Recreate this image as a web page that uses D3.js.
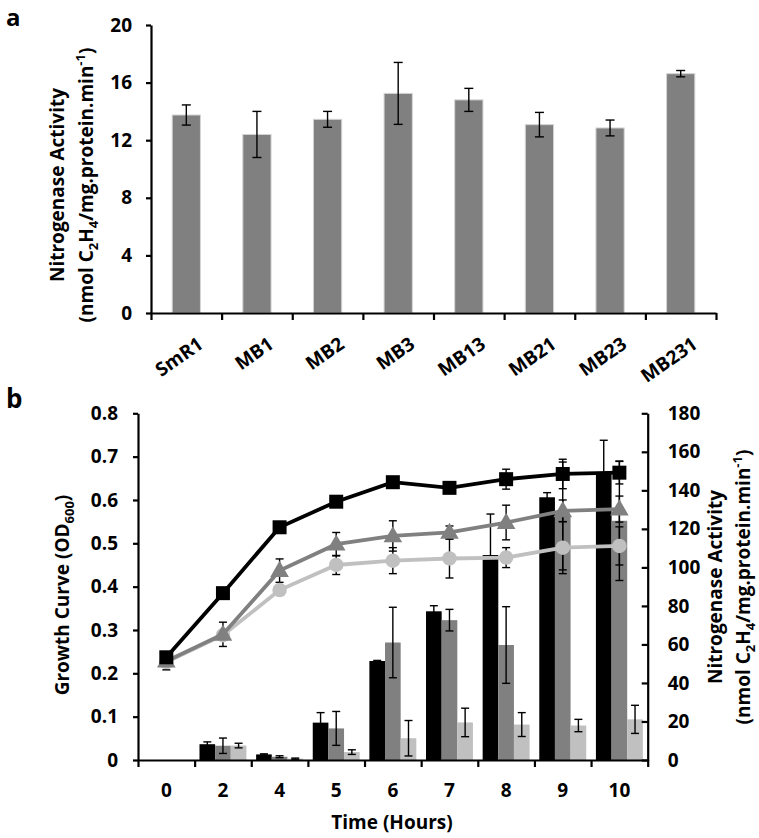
<!DOCTYPE html>
<html><head><meta charset="utf-8">
<script src="https://cdn.jsdelivr.net/npm/d3@7"></script>
<style>
body{margin:0;background:#fff}
text{font-family:"Open Sans",sans-serif;font-weight:bold;fill:#000}
</style></head>
<body>
<svg id="c" width="759" height="838"></svg>
<script>
// ---------- Panel a data ----------
const strainsA = ["SmR1","MB1","MB2","MB3","MB13","MB21","MB23","MB231"];
const activityA = [13.75,12.4,13.45,15.25,14.8,13.08,12.85,16.62];
const activityAErr = [0.7,1.6,0.55,2.15,0.8,0.85,0.55,0.22];
const yTicksA = [0,4,8,12,16,20];

// ---------- Panel b data ----------
const hoursB = ["0","2","4","5","6","7","8","9","10"];
const odBlack = [0.237,0.385,0.537,0.596,0.641,0.628,0.648,0.660,0.663];
const odBlackErr = [0.008,0.008,0.006,0.006,0.006,0.012,0.023,0.034,0.026];
const odGray = [0.228,0.290,0.437,0.498,0.517,0.525,0.548,0.575,0.579];
const odGrayErr = [0.01,0.028,0.027,0.027,0.035,0.015,0.04,0.025,0.03];
const odLight = [0.226,0.288,0.392,0.450,0.460,0.465,0.467,0.490,0.494];
const odLightErr = [0.018,0.006,0.006,0.022,0.03,0.045,0.023,0.06,0.044];
const nfBlack = [0,8.2,2.9,19.4,51.4,77.2,106.4,136.4,148.5];
const nfBlackErr = [0,1.2,0.3,5.2,0.3,2.9,21.3,2.4,17.5];
const nfGray = [0,7.4,1.7,16.4,61,72.6,59.7,126.7,124.2];
const nfGrayErr = [0,4,0.5,8.8,18.3,5.6,19.9,28,31];
const nfLight = [0,7.5,0.7,4.1,11.3,19.5,18.4,17.9,21.1];
const nfLightErr = [0,1.2,0.3,1.2,9.2,7.4,6.2,3.2,7.3];
const yTicksBL = [0,0.1,0.2,0.3,0.4,0.5,0.6,0.7,0.8];
const yTicksBR = [0,20,40,60,80,100,120,140,160,180];

const svg = d3.select("#c");
const COLORS = {b:"#000000", g:"#808080", l:"#c0c0c0"};
const TICK_FS = 19, TITLE_FS = 19, SUB_FS = 13;

function styleAxis(g){
  g.selectAll(".domain").attr("stroke","#000").attr("stroke-width",2.2);
  g.selectAll(".tick line").attr("stroke","#000").attr("stroke-width",2.2);
  g.selectAll(".tick text").attr("font-family","Open Sans").attr("font-weight","bold").attr("font-size",TICK_FS).attr("fill","#000");
}
function errBar(g, x, y0, y1, cap){
  g.append("line").attr("x1",x).attr("x2",x).attr("y1",y0).attr("y2",y1).attr("stroke","#000").attr("stroke-width",1.4);
  [y0,y1].forEach(y=>g.append("line").attr("x1",x-cap).attr("x2",x+cap).attr("y1",y).attr("y2",y).attr("stroke","#000").attr("stroke-width",1.4));
}
function unitTitle(g, x, y){
  const t = g.append("text").attr("text-anchor","middle").attr("font-size",TITLE_FS)
    .attr("transform",`translate(${x},${y}) rotate(-90)`);
  t.append("tspan").text("(nmol C");
  t.append("tspan").attr("font-size",SUB_FS).attr("dy",5).text("2");
  t.append("tspan").attr("dy",-5).text("H");
  t.append("tspan").attr("font-size",SUB_FS).attr("dy",5).text("4");
  t.append("tspan").attr("dy",-5).text("/mg.protein.min");
  t.append("tspan").attr("font-size",SUB_FS).attr("dy",-8).text("-1");
  t.append("tspan").attr("dy",8).text(")");
  return t;
}

// ================= Panel a =================
const aL=151, aR=716, aT=25, aB=313;
const xA = d3.scaleBand().domain(strainsA).range([aL,aR]).paddingInner(0.6).paddingOuter(0.3);
const xAt = d3.scaleLinear().domain([0,strainsA.length]).range([aL,aR]);
const yA = d3.scaleLinear().domain([0,20]).range([aB,aT]);
const gA = svg.append("g");

gA.selectAll("rect").data(activityA).join("rect")
  .attr("x",(d,i)=>xA(strainsA[i])).attr("width",xA.bandwidth())
  .attr("y",d=>yA(d)).attr("height",d=>aB-yA(d))
  .attr("fill","#808080").attr("stroke","#d4d4d4").attr("stroke-width",1);
activityA.forEach((d,i)=>{
  const cx = xA(strainsA[i])+xA.bandwidth()/2;
  errBar(gA, cx, yA(d+activityAErr[i]), yA(d-activityAErr[i]), 4.5);
});

gA.append("g").attr("transform",`translate(${aL},0)`)
  .call(d3.axisLeft(yA).tickValues(yTicksA).tickSize(5).tickSizeOuter(0).tickPadding(14))
  .call(styleAxis);
gA.append("g").attr("transform",`translate(0,${aB})`)
  .call(d3.axisBottom(xAt).tickValues(d3.range(0,strainsA.length+1)).tickFormat("").tickSize(7).tickSizeOuter(0))
  .call(styleAxis);
strainsA.forEach(s=>{
  const cx = xA(s)+xA.bandwidth()/2;
  gA.append("text").attr("font-size",TICK_FS).attr("text-anchor","end")
    .attr("transform",`translate(${cx+18},${aB+34}) rotate(-35)`).text(s);
});
gA.append("text").attr("text-anchor","middle").attr("font-size",TITLE_FS)
  .attr("transform",`translate(64,185) rotate(-90)`).text("Nitrogenase Activity");
unitTitle(gA, 93, 185);
svg.append("text").attr("x",6).attr("y",26).attr("font-size",24).text("a");

// ================= Panel b =================
const bL=138, bR=647.7, bT=413.3, bB=760;
const xB = d3.scaleBand().domain(hoursB).range([bL,bR]).padding(0);
const xBt = d3.scaleLinear().domain([0,hoursB.length]).range([bL,bR]);
const xSub = d3.scaleBand().domain(["b","g","l"]).range([0,xB.bandwidth()]).paddingInner(0).paddingOuter(0.31);
const yBL = d3.scaleLinear().domain([0,0.8]).range([bB,bT]);
const yBR = d3.scaleLinear().domain([0,180]).range([bB,bT]);
const gB = svg.append("g");

const barSeries = [
  {k:"b", v:nfBlack, e:nfBlackErr},
  {k:"g", v:nfGray, e:nfGrayErr},
  {k:"l", v:nfLight, e:nfLightErr}
];
barSeries.forEach(s=>{
  gB.append("g").selectAll("rect").data(s.v).join("rect")
    .attr("x",(d,i)=>xB(hoursB[i])+xSub(s.k)).attr("width",xSub.bandwidth())
    .attr("y",d=>yBR(d)).attr("height",d=>bB-yBR(d))
    .attr("fill",COLORS[s.k]);
});
barSeries.forEach(s=>{
  s.v.forEach((d,i)=>{
    if(s.e[i]<=0 || d<=0) return;
    const cx = xB(hoursB[i])+xSub(s.k)+xSub.bandwidth()/2;
    errBar(gB, cx, yBR(d+s.e[i]), yBR(Math.max(0,d-s.e[i])), 4);
  });
});

const lineSeries = [
  {k:"l", v:odLight, e:odLightErr, m:"circle"},
  {k:"g", v:odGray, e:odGrayErr, m:"triangle"},
  {k:"b", v:odBlack, e:odBlackErr, m:"square"}
];
const cxB = i => xB(hoursB[i])+xB.bandwidth()/2;
lineSeries.forEach(s=>{
  s.v.forEach((d,i)=>errBar(gB, cxB(i), yBL(d+s.e[i]), yBL(d-s.e[i]), 4));
});
lineSeries.forEach(s=>{
  const line = d3.line().x((d,i)=>cxB(i)).y(d=>yBL(d));
  gB.append("path").datum(s.v).attr("d",line).attr("fill","none")
    .attr("stroke",COLORS[s.k]).attr("stroke-width",3.8);
  const sym = s.m==="circle"? d3.symbolCircle : s.m==="triangle"? d3.symbolTriangle : d3.symbolSquare;
  const size = s.m==="circle"? 165 : s.m==="triangle"? 150 : 196;
  gB.append("g").selectAll("path").data(s.v).join("path")
    .attr("d",d3.symbol().type(sym).size(size))
    .attr("transform",(d,i)=>`translate(${cxB(i)},${yBL(d)+(s.m==="triangle"?1:0)})`)
    .attr("fill",COLORS[s.k]);
});

gB.append("g").attr("transform",`translate(${bL},0)`)
  .call(d3.axisLeft(yBL).tickValues(yTicksBL).tickFormat(d=>d===0?"0":d3.format(".1f")(d)).tickSize(5).tickSizeOuter(0).tickPadding(15))
  .call(styleAxis);
gB.append("g").attr("transform",`translate(${bR},0)`)
  .call(d3.axisRight(yBR).tickValues(yTicksBR).tickSize(-6).tickSizeOuter(0).tickPadding(20))
  .call(styleAxis);
gB.append("g").attr("transform",`translate(0,${bB})`)
  .call(d3.axisBottom(xBt).tickValues(d3.range(0,hoursB.length+1)).tickFormat("").tickSize(7).tickSizeOuter(0))
  .call(styleAxis);
hoursB.forEach((h,i)=>{
  gB.append("text").attr("x",cxB(i)).attr("y",bB+37).attr("text-anchor","middle").attr("font-size",TICK_FS).text(h);
});
gB.append("text").attr("x",392).attr("y",829).attr("text-anchor","middle").attr("font-size",TITLE_FS).text("Time (Hours)");

const tBL = gB.append("text").attr("text-anchor","middle").attr("font-size",TITLE_FS)
  .attr("transform",`translate(69,595) rotate(-90)`);
tBL.append("tspan").text("Growth Curve (OD");
tBL.append("tspan").attr("font-size",SUB_FS).attr("dy",5).text("600");
tBL.append("tspan").attr("dy",-5).text(")");

gB.append("text").attr("text-anchor","middle").attr("font-size",TITLE_FS)
  .attr("transform",`translate(722,587) rotate(-90)`).text("Nitrogenase Activity");
unitTitle(gB, 750, 587);
svg.append("text").attr("x",6).attr("y",408).attr("font-size",26).text("b");
</script>
</body></html>
